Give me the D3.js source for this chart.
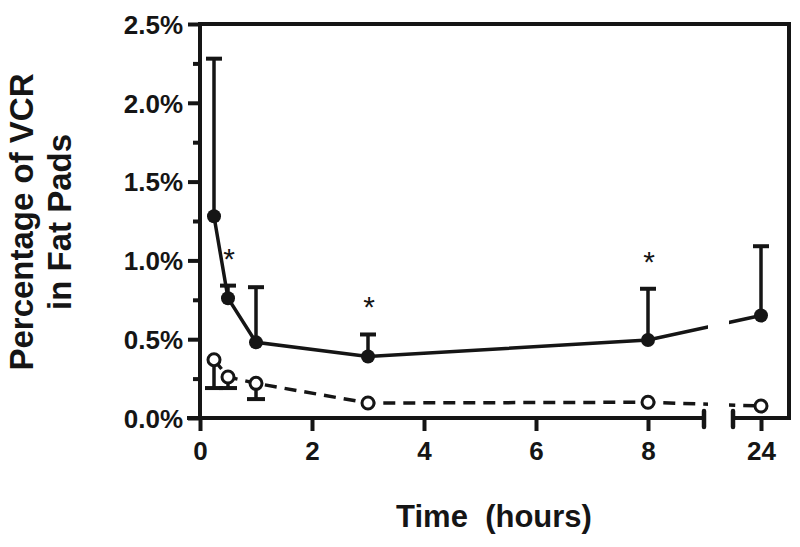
<!DOCTYPE html>
<html>
<head>
<meta charset="utf-8">
<script src="https://cdn.jsdelivr.net/npm/d3@7"></script>
<style>
  html, body { margin: 0; padding: 0; background: #fff; }
  svg { display: block; }
  text { font-family: "Liberation Sans", Arial, Helvetica, sans-serif; fill: #151515; }
</style>
</head>
<body>
<svg id="chart" width="800" height="547"></svg>
<script>
// ---- data (percent values) ----
const times = [0.25, 0.5, 1, 3, 8, 24];
const filledMean = [1.28, 0.76, 0.48, 0.39, 0.495, 0.65];
const filledUpper = [2.28, 0.84, 0.83, 0.53, 0.82, 1.09];
const openMean = [0.37, 0.26, 0.22, 0.095, 0.10, 0.076];
const openLower = [0.19, 0.19, 0.12, null, null, null];
const sigTimes = [0.5, 3, 8];
const xTicks = [0, 2, 4, 6, 8, 24];
const yMajorTicks = [0, 0.5, 1.0, 1.5, 2.0, 2.5];
const yMinorTicks = [0.25, 0.75, 1.25, 1.75, 2.25];
const yTitleLines = ["Percentage of VCR", "in Fat Pads"];
const xTitle = "Time  (hours)";

const ink = "#151515";
const svg = d3.select("#chart");

// broken x axis: 0..9 then 23.5..24.5
const x = d3.scaleLinear().domain([0, 9, 23.5, 24.5]).range([200, 704, 733, 789]);
const y = d3.scaleLinear().domain([0, 2.5]).range([418, 24]);

const x0 = x(0), yTop = y(2.5), yBot = y(0), xRight = x(24.5);

// ---- series lines ----
const filled = times.map((t, i) => ({t, m: filledMean[i], u: filledUpper[i]}));
const open = times.map((t, i) => ({t, m: openMean[i], l: openLower[i]}));

const line = d3.line().x(d => x(d.t)).y(d => y(d.m));

svg.append("path").datum(open).attr("d", line)
  .attr("fill", "none").attr("stroke", ink).attr("stroke-width", 3.5)
  .attr("stroke-dasharray", "12,8");
svg.append("path").datum(filled).attr("d", line)
  .attr("fill", "none").attr("stroke", ink).attr("stroke-width", 3.5);

// gap at axis break
svg.append("rect")
  .attr("x", x(9) + 4).attr("y", yTop + 4)
  .attr("width", x(23.5) - x(9) - 8).attr("height", yBot - yTop - 8)
  .attr("fill", "#fff");

// ---- error bars ----
const cap = 8;
const eb = svg.append("g").attr("stroke", ink).attr("stroke-width", 3.5);
filled.forEach(d => {
  eb.append("line").attr("x1", x(d.t)).attr("x2", x(d.t)).attr("y1", y(d.m)).attr("y2", y(d.u));
  eb.append("line").attr("x1", x(d.t) - cap).attr("x2", x(d.t) + cap).attr("y1", y(d.u)).attr("y2", y(d.u)).attr("stroke-width", 4);
});
open.filter(d => d.l != null).forEach(d => {
  eb.append("line").attr("x1", x(d.t)).attr("x2", x(d.t)).attr("y1", y(d.m)).attr("y2", y(d.l));
  eb.append("line").attr("x1", x(d.t) - cap - 1).attr("x2", x(d.t) + cap + 1).attr("y1", y(d.l)).attr("y2", y(d.l)).attr("stroke-width", 4);
});

// ---- markers ----
svg.append("g").selectAll("circle").data(open).join("circle")
  .attr("cx", d => x(d.t)).attr("cy", d => y(d.m)).attr("r", 6)
  .attr("fill", "#fff").attr("stroke", ink).attr("stroke-width", 3);
svg.append("g").selectAll("circle").data(filled).join("circle")
  .attr("cx", d => x(d.t)).attr("cy", d => y(d.m)).attr("r", 7)
  .attr("fill", ink);

// ---- significance asterisks ----
svg.append("g").selectAll("text").data(filled.filter(d => sigTimes.includes(d.t))).join("text")
  .attr("x", d => x(d.t) + 1).attr("y", d => y(d.u) - 17)
  .attr("text-anchor", "middle").attr("font-size", 30)
  .text("*");

// ---- frame (top / right) ----
const frame = svg.append("g").attr("stroke", ink).attr("stroke-width", 4).attr("fill", "none");
frame.append("path").attr("d", `M${x0},${yTop}H${xRight}V${yBot}`);

// ---- y axis ----
const yAxis = d3.axisLeft(y).tickValues(yMajorTicks).tickSize(12).tickPadding(5)
  .tickFormat(d => d3.format(".1f")(d) + "%");
const gy = svg.append("g").attr("transform", `translate(${x0},0)`).call(yAxis);
gy.select(".domain").remove();
gy.selectAll(".tick line").attr("stroke", ink).attr("stroke-width", 4);
gy.selectAll(".tick text").attr("font-size", 26).attr("font-weight", "bold").attr("fill", ink).attr("dy", "0.36em");

const gyMinor = svg.append("g").attr("transform", `translate(${x0},0)`)
  .call(d3.axisLeft(y).tickValues(yMinorTicks).tickSize(7).tickFormat(""));
gyMinor.select(".domain").remove();
gyMinor.selectAll(".tick line").attr("stroke", ink).attr("stroke-width", 4);

svg.append("line").attr("x1", x0).attr("x2", x0).attr("y1", yTop - 2).attr("y2", yBot + 2)
  .attr("stroke", ink).attr("stroke-width", 4);

// ---- x axis (broken) ----
const xAxis = d3.axisBottom(x).tickValues(xTicks).tickSize(13).tickPadding(11).tickFormat(d3.format("d"));
const gx = svg.append("g").attr("transform", `translate(0,${yBot})`).call(xAxis);
gx.select(".domain").remove();
gx.selectAll(".tick line").attr("stroke", ink).attr("stroke-width", 4);
gx.selectAll(".tick text").attr("font-size", 26).attr("font-weight", "bold").attr("fill", ink);

const axisG = svg.append("g").attr("stroke", ink).attr("fill", "none");
axisG.append("line").attr("x1", x0 - 13).attr("x2", x(9)).attr("y1", yBot).attr("y2", yBot).attr("stroke-width", 4);
axisG.append("line").attr("x1", x(23.5)).attr("x2", xRight + 2).attr("y1", yBot).attr("y2", yBot).attr("stroke-width", 4);
[9, 23.5].forEach(v => {
  axisG.append("line").attr("x1", x(v)).attr("x2", x(v)).attr("y1", yBot - 7).attr("y2", yBot + 9)
    .attr("stroke-width", 4.5).attr("stroke-linecap", "round");
});

// ---- titles ----
const yt = svg.append("text").attr("transform", "translate(33,222) rotate(-90)")
  .attr("text-anchor", "middle").attr("font-size", 33).attr("font-weight", "bold");
yt.selectAll("tspan").data(yTitleLines).join("tspan")
  .attr("x", 0).attr("dy", (d, i) => i === 0 ? 0 : 38).text(d => d);

svg.append("text").attr("x", 494).attr("y", 527)
  .attr("text-anchor", "middle").attr("font-size", 31).attr("font-weight", "bold")
  .style("white-space", "pre").text(xTitle);
</script>
</body>
</html>
